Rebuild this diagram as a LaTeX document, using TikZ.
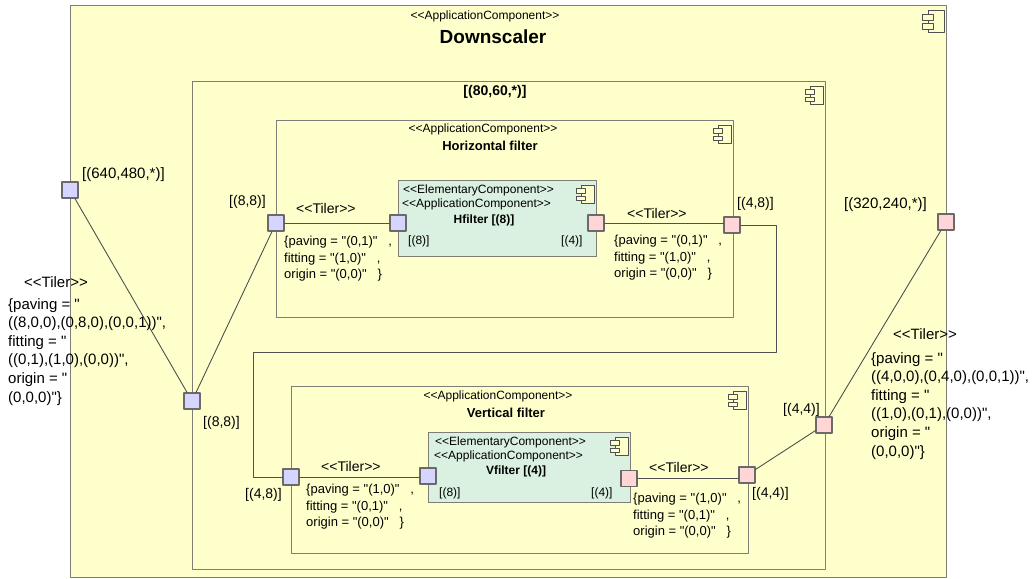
\documentclass[tikz,border=0pt]{standalone}
\usepackage{fontspec}
\newfontfamily\umlfont{Liberation Sans}
\usetikzlibrary{calc}
\usetikzlibrary{positioning}
\definecolor{compyellow}{HTML}{FFFFCC}
\definecolor{compgreen}{HTML}{DAF0E0}
\definecolor{portblue}{HTML}{D5D5FF}
\definecolor{portpink}{HTML}{FFD5D5}
\definecolor{boxgray}{HTML}{7E7E76}
\definecolor{wiregray}{HTML}{505050}
\tikzset{
  compbox/.style={draw=boxgray, line width=1.3pt, fill=compyellow, anchor=north west, inner sep=0pt},
  elembox/.style={compbox, fill=compgreen},
  inport/.style={draw=wiregray!85, line width=1.2pt, fill=portblue, minimum size=16pt, inner sep=0pt},
  outport/.style={inport, fill=portpink},
  wire/.style={draw=wiregray, line width=.9pt},
  stereo/.style={font=\umlfont\fontsize{12}{14}\selectfont, inner sep=0pt, anchor=center},
  stereoleft/.style={stereo, anchor=west},
  tiler/.style={font=\umlfont\fontsize{14}{16}\selectfont, inner sep=0pt, anchor=west},
  shape label/.style={tiler},
  long label/.style={tiler, font=\umlfont\fontsize{15}{17}\selectfont},
  titlelabel/.style={stereo, font=\umlfont\bfseries\fontsize{13}{15}\selectfont},
  namelabel/.style={stereo, font=\umlfont\bfseries\fontsize{12}{14}\selectfont},
  pattern text/.style={font=\umlfont\fontsize{13}{16.5}\selectfont, inner sep=0pt, anchor=north west, align=left},
  long pattern/.style={font=\umlfont\fontsize{15}{18.6}\selectfont, inner sep=0pt, anchor=north west, align=left},
  compicon/.pic={
    \draw[wiregray, line width=.9pt, fill=compyellow] (-13,0) rectangle (0,18);
    \draw[wiregray, line width=.9pt, fill=compyellow] (-17.5,3.3) rectangle (-8.5,8);
    \draw[wiregray, line width=.9pt, fill=compyellow] (-17.5,11) rectangle (-8.5,15.7);
  }
}
\begin{document}
\begin{tikzpicture}[x=1pt, y=-1pt, line cap=round, line join=round]
  \useasboundingbox (0,0) rectangle (1032,578);
  %--- Downscaler
    \node[compbox, minimum width=876pt, minimum height=572pt] (downscaler) at (70,5) {};
    \pic[scale=1.25] at ($(downscaler.north east)+(-3,5)$) {compicon};
    \node[stereo] (downstereo) at (485,16) {<<ApplicationComponent>>};
    \node[titlelabel, font=\umlfont\bfseries\fontsize{19}{21}\selectfont] (downtitle) at (493,37) {Downscaler};
  %--- Repetition
    \node[compbox, minimum width=633pt, minimum height=488pt] (repeat) at (192,81) {};
    \pic at ($(repeat.north east)+(-3,5)$) {compicon};
    \node[titlelabel, font=\umlfont\bfseries\fontsize{14}{16}\selectfont] (repeattitle) at (495,92) {[(80,60,*)]};
  %--- Horizontal filter
    \node[compbox, minimum width=457pt, minimum height=197pt] (horizontal) at (276,120) {};
    \pic at ($(horizontal.north east)+(-3,5)$) {compicon};
    \node[stereo] (hstereo) at (483,129) {<<ApplicationComponent>>};
    \node[titlelabel] (htitle) at (490,146) {Horizontal filter};
  %--- Vertical filter
    \node[compbox, minimum width=457pt, minimum height=167pt] (vertical) at (291,386) {};
    \pic at ($(vertical.north east)+(-3,5)$) {compicon};
    \node[stereo] (vstereo) at (498,396) {<<ApplicationComponent>>};
    \node[titlelabel] (vtitle) at (506,413) {Vertical filter};
  %--- Hfilter
    \node[elembox, minimum width=198pt, minimum height=76pt] (hfilter) at (398,180) {};
    \pic at ($(hfilter.north east)+(-3,5)$) {compicon};
    \node[stereoleft] (helem) at (403,190) {<<ElementaryComponent>>};
    \node[stereoleft] (happ) at (402,204) {<<ApplicationComponent>>};
    \node[namelabel] (hname) at (484,220) {Hfilter [(8)]};
    \node[stereoleft] (hsizein) at (408,241) {[(8)]};
    \node[stereoleft] (hsizeout) at (561,241) {[(4)]};
  %--- Vfilter
    \node[elembox, minimum width=202pt, minimum height=70pt] (vfilter) at (428,432) {};
    \pic at ($(vfilter.north east)+(-3,5)$) {compicon};
    \node[stereoleft] (velem) at (435,442) {<<ElementaryComponent>>};
    \node[stereoleft] (vapp) at (434,456) {<<ApplicationComponent>>};
    \node[namelabel] (vname) at (516,471) {Vfilter [(4)]};
    \node[stereoleft] (vsizein) at (439,493) {[(8)]};
    \node[stereoleft] (vsizeout) at (591,493) {[(4)]};
  %--- Ports
    \node[inport] (inmain) at (70,190) {};
    \node[inport] (inrepeat) at (192,401) {};
    \node[inport] (inhoriz) at (276,223) {};
    \node[inport] (inhfilter) at (398,223) {};
    \node[outport] (outhfilter) at (596,223) {};
    \node[outport] (outhoriz) at (732,225) {};
    \node[inport] (invert) at (291,477) {};
    \node[inport] (invfilter) at (428,476) {};
    \node[outport] (outvfilter) at (629,478.5) {};
    \node[outport] (outvert) at (747,475) {};
    \node[outport] (outrepeat) at (824,425) {};
    \node[outport] (outmain) at (946,222) {};
  %--- Wires
    \coordinate (turnright) at (776,352);
    \coordinate (turnleft) at (253,352);
    \draw[wire] (inmain) -- (inrepeat);
    \draw[wire] (inrepeat) -- (inhoriz);
    \draw[wire] (inhoriz) -- (inhfilter);
    \draw[wire] (outhfilter.east) -- (outhfilter.east -| outhoriz.west);
    \draw[wire] (outhoriz) -| (turnright) -- (turnleft) |- (invert);
    \draw[wire] (invert.east) -- (invert.east -| invfilter.west);
    \draw[wire] (outvfilter.east) -- (outvfilter.east -| outvert.west);
    \draw[wire] (outvert) -- (outrepeat);
    \draw[wire] (outrepeat) -- (outmain);
  %--- Port shapes
    \node[long label] (shapeinmain) at (82,175) {[(640,480,*)]};
    \node[shape label] (shapeinrepeat) at (203,423) {[(8,8)]};
    \node[shape label] (shapeinhoriz) at (229,202) {[(8,8)]};
    \node[shape label] (shapeouthoriz) at (737,204) {[(4,8)]};
    \node[shape label] (shapeinvert) at (245,495) {[(4,8)]};
    \node[shape label] (shapeoutvert) at (752,494) {[(4,4)]};
    \node[shape label] (shapeoutrepeat) at (783,410) {[(4,4)]};
    \node[long label] (shapeoutmain) at (844,205) {[(320,240,*)]};
  %--- Tilers
    \node[tiler] (tilerhin) at (296,208) {<<Tiler>>};
    \node[pattern text] (patternhin) at (284,236) {\{paving = "(0,1)"\ \ \ ,\\fitting = "(1,0)"\ \ \ ,\\origin = "(0,0)"\ \ \ \}};
    \node[tiler] (tilerhout) at (627,213) {<<Tiler>>};
    \node[pattern text] (patternhout) at (614,235) {\{paving = "(0,1)"\ \ \ ,\\fitting = "(1,0)"\ \ \ ,\\origin = "(0,0)"\ \ \ \}};
    \node[tiler] (tilervin) at (321,466) {<<Tiler>>};
    \node[pattern text] (patternvin) at (306,484) {\{paving = "(1,0)"\ \ \ ,\\fitting = "(0,1)"\ \ \ ,\\origin = "(0,0)"\ \ \ \}};
    \node[tiler] (tilervout) at (649,467) {<<Tiler>>};
    \node[pattern text] (patternvout) at (633,493) {\{paving = "(1,0)"\ \ \ ,\\fitting = "(0,1)"\ \ \ ,\\origin = "(0,0)"\ \ \ \}};
    \node[long label] (tilermain) at (24,282) {<<Tiler>>};
    \node[long pattern] (patternmain) at (8,298) {\{paving = "\\((8,0,0),(0,8,0),(0,0,1))",\\fitting = "\\((0,1),(1,0),(0,0))",\\origin = "\\(0,0,0)"\}};
    \node[long label] (tilerout) at (893,334) {<<Tiler>>};
    \node[long pattern] (patternout) at (871,352) {\{paving = "\\((4,0,0),(0,4,0),(0,0,1))",\\fitting = "\\((1,0),(0,1),(0,0))",\\origin = "\\(0,0,0)"\}};
\end{tikzpicture}
\end{document}
